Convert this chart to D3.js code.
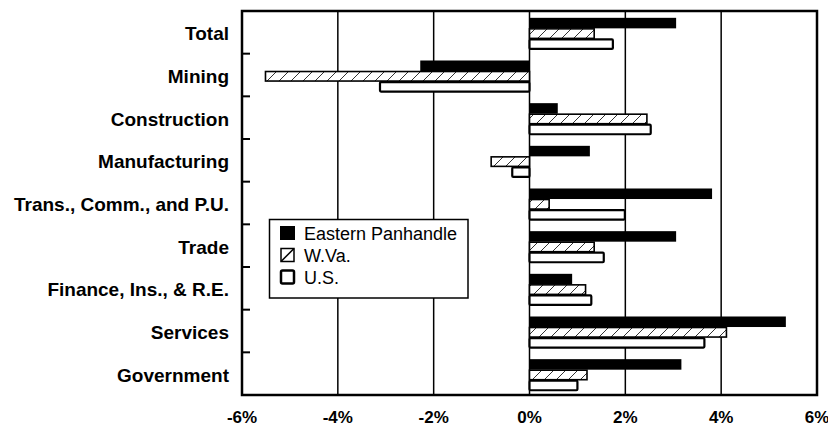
<!DOCTYPE html>
<html>
<head>
<meta charset="utf-8">
<script src="https://cdn.jsdelivr.net/npm/d3@7"></script>
<style>
  html, body { margin: 0; padding: 0; background: #fff; }
  svg { display: block; }
  text { font-family: "Liberation Sans", Arial, Helvetica, sans-serif; fill: #000; }
</style>
</head>
<body>
<svg id="chart" width="828" height="426"></svg>
<script>
const categories = ["Total", "Mining", "Construction", "Manufacturing", "Trans., Comm., and P.U.", "Trade", "Finance, Ins., & R.E.", "Services", "Government"];
const seriesNames = ["Eastern Panhandle", "W.Va.", "U.S."];
const easternPanhandle = [3.06, -2.28, 0.59, 1.26, 3.81, 3.06, 0.89, 5.35, 3.17];
const wva = [1.35, -5.51, 2.45, -0.80, 0.41, 1.35, 1.17, 4.11, 1.20];
const us = [1.74, -3.12, 2.53, -0.36, 1.99, 1.55, 1.29, 3.65, 1.00];
const xTicks = [-6, -4, -2, 0, 2, 4, 6];
const gridTicks = [-4, -2, 0, 2, 4];

const seriesValues = [easternPanhandle, wva, us];

const svg = d3.select("#chart");
const mLeft = 242, mRight = 817, mTop = 11, mBottom = 395;

const x = d3.scaleLinear().domain([-6, 6]).range([mLeft, mRight]);
const y = d3.scaleBand().domain(categories).range([mTop, mBottom]).paddingInner(0).paddingOuter(0);
const bw = y.bandwidth();
const ySub = d3.scaleBand().domain(seriesNames).range([bw * 0.16, bw * 0.9]).padding(0);

// hatch pattern
const defs = svg.append("defs");
const pat = defs.append("pattern")
  .attr("id", "hatch")
  .attr("patternUnits", "userSpaceOnUse")
  .attr("width", 12).attr("height", 12);
pat.append("rect").attr("width", 12).attr("height", 12).attr("fill", "#fff");
pat.append("path").attr("d", "M-1,13 L13,-1").attr("stroke", "#333").attr("stroke-width", 1);

// gridlines
svg.append("g").selectAll("line").data(gridTicks).join("line")
  .attr("x1", d => x(d)).attr("x2", d => x(d))
  .attr("y1", mTop).attr("y2", mBottom)
  .attr("stroke", "#000").attr("stroke-width", 1.5);

// bars
const fills = ["#000", "url(#hatch)", "#fff"];
const strokes = ["none", "#000", "#000"];
const sw = [0, 1.6, 2.2];
seriesNames.forEach((s, si) => {
  svg.append("g").selectAll("rect").data(categories).join("rect")
    .attr("x", (c, i) => x(Math.min(0, seriesValues[si][i])))
    .attr("width", (c, i) => Math.abs(x(seriesValues[si][i]) - x(0)))
    .attr("y", c => y(c) + ySub(s) + (si === 0 ? 0 : 0.5))
    .attr("height", ySub.bandwidth() - (si === 0 ? 0 : 1))
    .attr("fill", fills[si])
    .attr("stroke", strokes[si])
    .attr("stroke-width", sw[si])
    .attr("rx", si === 2 ? 1 : 0);
});

// frame
svg.append("rect")
  .attr("x", mLeft).attr("y", mTop)
  .attr("width", mRight - mLeft).attr("height", mBottom - mTop)
  .attr("fill", "none").attr("stroke", "#000").attr("stroke-width", 2.5);

// y ticks (inward at category boundaries)
const boundaries = categories.slice(1).map(c => y(c));
svg.append("g").selectAll("line").data(boundaries).join("line")
  .attr("x1", mLeft).attr("x2", mLeft + 8)
  .attr("y1", d => d).attr("y2", d => d)
  .attr("stroke", "#000").attr("stroke-width", 2);

// category labels
svg.append("g").selectAll("text").data(categories).join("text")
  .attr("x", 229)
  .attr("y", c => y(c) + bw / 2 + 8)
  .attr("text-anchor", "end")
  .style("font-size", "19px")
  .style("font-weight", "bold")
  .text(c => c);

// x tick labels
svg.append("g").selectAll("text").data(xTicks).join("text")
  .attr("x", d => x(d))
  .attr("y", 423)
  .attr("text-anchor", "middle")
  .style("font-size", "17px")
  .style("font-weight", "bold")
  .text(d => d + "%");

// legend
const lg = svg.append("g");
lg.append("rect")
  .attr("x", 269.5).attr("y", 219.5).attr("width", 198.5).attr("height", 78.5)
  .attr("fill", "#fff").attr("stroke", "#000").attr("stroke-width", 1.5);
const rowY = [233, 255, 277];
seriesNames.forEach((s, i) => {
  const cy = rowY[i];
  if (i === 0) {
    lg.append("rect").attr("x", 280).attr("y", cy - 7).attr("width", 15).attr("height", 14).attr("fill", "#000");
  } else if (i === 1) {
    lg.append("rect").attr("x", 281).attr("y", cy - 6.5).attr("width", 13).attr("height", 13)
      .attr("fill", "#fff").attr("stroke", "#000").attr("stroke-width", 1.5);
    lg.append("line").attr("x1", 281).attr("y1", cy + 6.5).attr("x2", 294).attr("y2", cy - 6.5)
      .attr("stroke", "#000").attr("stroke-width", 1.5);
  } else {
    lg.append("rect").attr("x", 281).attr("y", cy - 6.5).attr("width", 13).attr("height", 13).attr("rx", 1.5)
      .attr("fill", "#fff").attr("stroke", "#000").attr("stroke-width", 2.5);
  }
  lg.append("text")
    .attr("x", 304).attr("y", cy + 7)
    .style("font-size", "18px")
    .text(s);
});
</script>
</body>
</html>
